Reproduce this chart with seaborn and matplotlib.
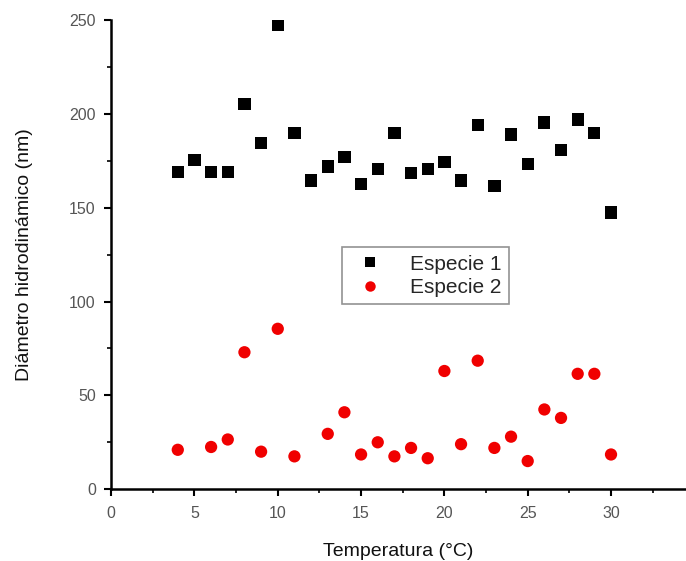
import matplotlib
matplotlib.use("Agg")
import matplotlib.pyplot as plt
from matplotlib.ticker import MultipleLocator
import seaborn as sns
import pandas as pd

temp1 = [4, 5, 6, 7, 8, 9, 10, 11, 12, 13, 14, 15, 16, 17, 18, 19, 20, 21, 22, 23, 24, 25, 26, 27, 28, 29, 30]
diam1 = [169, 175.5, 169, 169, 205.5, 184.5, 247.5, 190, 164.5, 172, 177, 162.5, 170.5, 190, 168.5, 170.5, 174.5, 164.5, 194, 161.5, 189, 173.5, 195.5, 181, 197, 190, 147.5]
temp2 = [4, 6, 7, 8, 9, 10, 11, 13, 14, 15, 16, 17, 18, 19, 20, 21, 22, 23, 24, 25, 26, 27, 28, 29, 30]
diam2 = [21, 22.5, 26.5, 73, 20, 85.5, 17.5, 29.5, 41, 18.5, 25, 17.5, 22, 16.5, 63, 24, 68.5, 22, 28, 15, 42.5, 38, 61.5, 61.5, 18.5]
series = ["Especie 1", "Especie 2"]

df = pd.concat([
    pd.DataFrame({"T": temp1, "D": diam1, "Especie": series[0]}),
    pd.DataFrame({"T": temp2, "D": diam2, "Especie": series[1]}),
], ignore_index=True)

sns.set_style("ticks")
plt.rcParams['font.family'] = ['Liberation Sans', 'DejaVu Sans']

fig = plt.figure(figsize=(6.86, 5.61), dpi=100)
ax = fig.add_axes([0.162, 0.128, 0.838, 0.836])

sns.scatterplot(data=df, x="T", y="D", hue="Especie", style="Especie",
                markers={series[0]: "s", series[1]: "o"},
                palette={series[0]: "black", series[1]: "#f00000"},
                s=78, linewidth=0, ax=ax)

ax.set_xlim(0, 34.5)
ax.set_ylim(0, 250)
ax.xaxis.set_major_locator(MultipleLocator(5))
ax.xaxis.set_minor_locator(MultipleLocator(2.5))
ax.yaxis.set_major_locator(MultipleLocator(50))
ax.yaxis.set_minor_locator(MultipleLocator(25))
ax.set_xticks([0, 5, 10, 15, 20, 25, 30])

for side in ["top", "right"]:
    ax.spines[side].set_visible(False)
for side in ["left", "bottom"]:
    ax.spines[side].set_linewidth(1.8)
    ax.spines[side].set_color("black")

ax.tick_params(which="major", direction="out", length=5, width=1.5, color="black",
               labelsize=11.5, labelcolor="#555555")
ax.tick_params(axis="x", which="major", pad=7)
ax.tick_params(axis="y", which="major", pad=6)
ax.tick_params(which="minor", direction="out", length=3, width=1.2, color="black")

ax.set_xlabel("Temperatura (°C)", fontsize=14, color="#111111", labelpad=16)
ax.set_ylabel("Diámetro hidrodinámico (nm)", fontsize=14, color="#111111", labelpad=26)

leg = ax.legend(loc="center", bbox_to_anchor=(0.547, 0.455), title=None,
                fontsize=15, frameon=True, fancybox=False, edgecolor="#777777",
                handletextpad=0.9, borderpad=0.35, labelspacing=0.2, markerscale=0.85)
leg.get_frame().set_linewidth(1.2)

fig.savefig("out.png", dpi=100)
